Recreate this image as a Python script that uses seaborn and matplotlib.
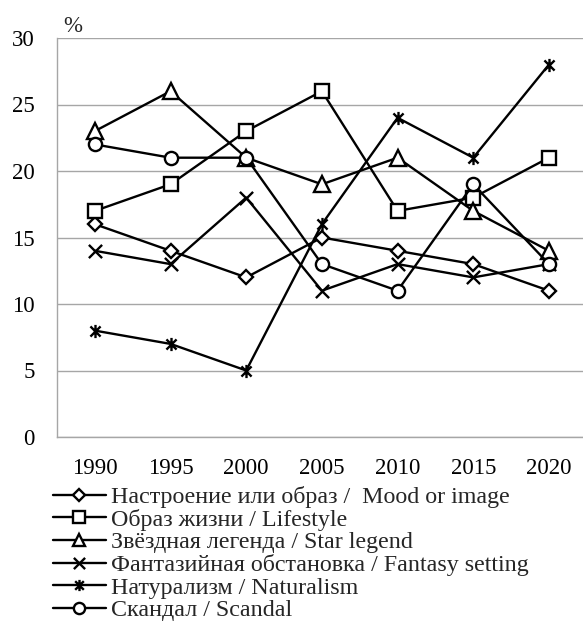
import numpy as np
import pandas as pd
import seaborn as sns
import matplotlib.pyplot as plt
from matplotlib.path import Path

years = ["1990", "1995", "2000", "2005", "2010", "2015", "2020"]
series_names = [
    "Настроение или образ /  Mood or image",
    "Образ жизни / Lifestyle",
    "Звёздная легенда / Star legend",
    "Фантазийная обстановка / Fantasy setting",
    "Натурализм / Naturalism",
    "Скандал / Scandal",
]
mood = [16, 14, 12, 15, 14, 13, 11]
lifestyle = [17, 19, 23, 26, 17, 18, 21]
star_legend = [23, 26, 21, 19, 21, 17, 14]
fantasy = [14, 13, 18, 11, 13, 12, 13]
naturalism = [8, 7, 5, 16, 24, 21, 28]
scandal = [22, 21, 21, 13, 11, 19, 13]
y_ticks = [0, 5, 10, 15, 20, 25, 30]

values = [mood, lifestyle, star_legend, fantasy, naturalism, scandal]
df = pd.DataFrame({
    "year": np.tile(np.arange(len(years)), len(series_names)),
    "share": np.concatenate(values),
    "series": np.repeat(series_names, len(years)),
})

sns.set_theme(style="white")
plt.rcParams["font.family"] = ["Liberation Serif", "DejaVu Serif"]

# asterisk: X with a vertical bar
asterisk = Path(
    [(-1, -1), (1, 1), (-1, 1), (1, -1), (0, -1.3), (0, 1.3)],
    [Path.MOVETO, Path.LINETO, Path.MOVETO, Path.LINETO, Path.MOVETO, Path.LINETO],
)
cross = Path(
    [(-1, -1), (1, 1), (-1, 1), (1, -1)],
    [Path.MOVETO, Path.LINETO, Path.MOVETO, Path.LINETO],
)
markers = ["D", "s", "^", cross, asterisk, "o"]
marker_sizes = {"D": 7.5, "s": 10, "^": 11}

fig = plt.figure(figsize=(5.83, 6.23), dpi=100)
ax = fig.add_axes([57 / 583, 1 - 437 / 623, 1 - 57 / 583, (437 - 38) / 623])

sns.lineplot(
    data=df, x="year", y="share", hue="series", style="series",
    palette=["black"] * len(series_names), markers=markers, dashes=False,
    hue_order=series_names, style_order=series_names,
    linewidth=1.7, markersize=9.5, markerfacecolor="white",
    markeredgecolor="black", markeredgewidth=1.7, ax=ax, legend=True,
)

for line in ax.lines:
    m = line.get_marker()
    if isinstance(m, str) and m in marker_sizes:
        line.set_markersize(marker_sizes[m])

ax.set_xlim(-0.5, 6.45)
ax.set_ylim(0, 30)
ax.set_xticks(range(len(years)))
ax.set_xticklabels(years)
ax.set_yticks(y_ticks)
ax.set_yticklabels([str(t) for t in y_ticks])
ax.tick_params(axis="both", labelsize=16.5, length=0, colors="black")
ax.tick_params(axis="x", pad=15)
ax.tick_params(axis="y", pad=16)
ax.set_xlabel("")
ax.set_ylabel("")
ax.grid(axis="y", color="#a6a6a6", linewidth=1)
ax.set_axisbelow(True)
for side in ["top", "right"]:
    ax.spines[side].set_visible(False)
for side in ["left", "bottom"]:
    ax.spines[side].set_color("#a6a6a6")
    ax.spines[side].set_linewidth(1)

fig.text(63 / 583, 1 - 26 / 623, "%", fontsize=16.5, va="center", ha="left")

# legend below the axes, with slightly smaller markers on the handles
handles, labels = ax.get_legend_handles_labels()
ax.legend_.remove()
for h in handles:
    m = h.get_marker()
    size = marker_sizes.get(m, 9.5) if isinstance(m, str) else 9.5
    h.set_markersize(size * 0.85)
    h.set_linewidth(1.7)
fig.legend(
    handles, labels, loc="upper left",
    bbox_to_anchor=(53 / 583, 1 - 486 / 623), frameon=False,
    fontsize=17.3, handlelength=2.2, handletextpad=0.2,
    labelspacing=0.03, borderpad=0, borderaxespad=0,
)

fig.savefig("out.png", dpi=100)
